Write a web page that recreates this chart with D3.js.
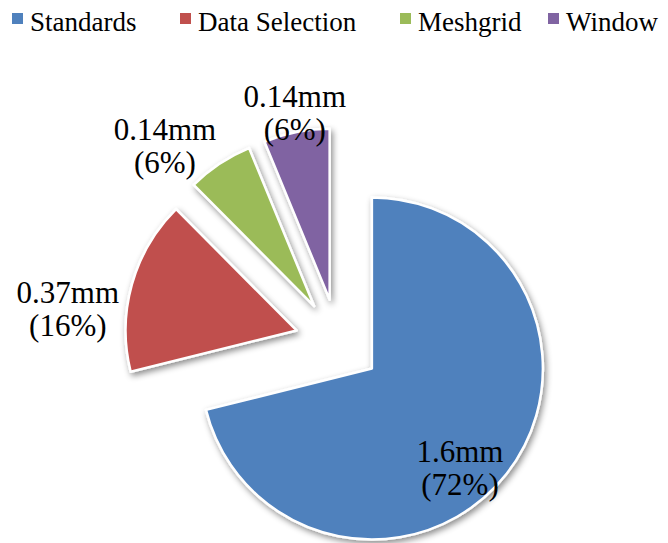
<!DOCTYPE html>
<html>
<head>
<meta charset="utf-8">
<script src="https://cdn.jsdelivr.net/npm/d3@7"></script>
<style>
  html, body { margin: 0; padding: 0; background: #fff; }
  svg { display: block; }
  text { font-family: "Liberation Serif", "Times New Roman", serif; fill: #000; }
</style>
</head>
<body>
<div id="chart"></div>
<script>
// ---- data ----
const categories = ["Standards", "Data Selection", "Meshgrid", "Window"];
const values = [1.6, 0.37, 0.14, 0.14];            // mm
const valueLabels = ["1.6mm", "0.37mm", "0.14mm", "0.14mm"];
const percentLabels = ["(72%)", "(16%)", "(6%)", "(6%)"];
const colors = ["#4F81BD", "#C0504D", "#9BBB59", "#8064A2"];

// ---- layout ----
const W = 668, H = 543;
const center = { x: 338, y: 342 };
const radius = 171;
const explode = 43;
// label placement (polar, relative to pie centre): angle in degrees clockwise from 12 o'clock
const labelPolar = [
  { a: 134.5, d: 171 },
  { a: 278.2, d: 273 },
  { a: 319.4, d: 266 },
  { a: 349.6, d: 239 }
];
const legendX = [12, 180, 400, 548];

const svg = d3.select("#chart").append("svg")
  .attr("width", W).attr("height", H);

const defs = svg.append("defs");
const f = defs.append("filter").attr("id", "shadow")
  .attr("x", "-20%").attr("y", "-20%").attr("width", "150%").attr("height", "150%");
f.append("feDropShadow").attr("dx", 2).attr("dy", 3).attr("stdDeviation", 3)
  .attr("flood-color", "#000").attr("flood-opacity", 0.45);

const data = categories.map((c, i) => ({ name: c, value: values[i], i }));

const pie = d3.pie().value(d => d.value).sort(null);
const arc = d3.arc().innerRadius(0).outerRadius(radius);
const arcs = pie(data);

const g = svg.append("g").attr("transform", `translate(${center.x},${center.y})`);

g.selectAll("path.slice").data(arcs).enter().append("path")
  .attr("class", "slice")
  .attr("transform", d => {
    const m = (d.startAngle + d.endAngle) / 2;
    return `translate(${Math.sin(m) * explode},${-Math.cos(m) * explode})`;
  })
  .attr("d", arc)
  .attr("fill", d => colors[d.data.i])
  .attr("stroke", "#fff")
  .attr("stroke-width", 2.5)
  .attr("stroke-linejoin", "round")
  .attr("filter", "url(#shadow)");

// labels
const lab = g.selectAll("text.lbl").data(arcs).enter().append("text")
  .attr("class", "lbl")
  .attr("text-anchor", "middle")
  .style("font-size", "31px")
  .attr("transform", d => {
    const p = labelPolar[d.data.i];
    const a = p.a * Math.PI / 180;
    return `translate(${Math.sin(a) * p.d},${-Math.cos(a) * p.d})`;
  });
lab.append("tspan").attr("x", 0).attr("y", 0).text(d => valueLabels[d.data.i]);
lab.append("tspan").attr("x", 0).attr("y", 33).text(d => percentLabels[d.data.i]);

// legend
const leg = svg.append("g").attr("class", "legend");
const items = leg.selectAll("g").data(data).enter().append("g")
  .attr("transform", d => `translate(${legendX[d.i]},0)`);
items.append("rect").attr("x", 0).attr("y", 13).attr("width", 11).attr("height", 11)
  .attr("fill", d => colors[d.i]);
items.append("text").attr("x", 18).attr("y", 31)
  .style("font-size", "27px")
  .text(d => d.name);
</script>
</body>
</html>
